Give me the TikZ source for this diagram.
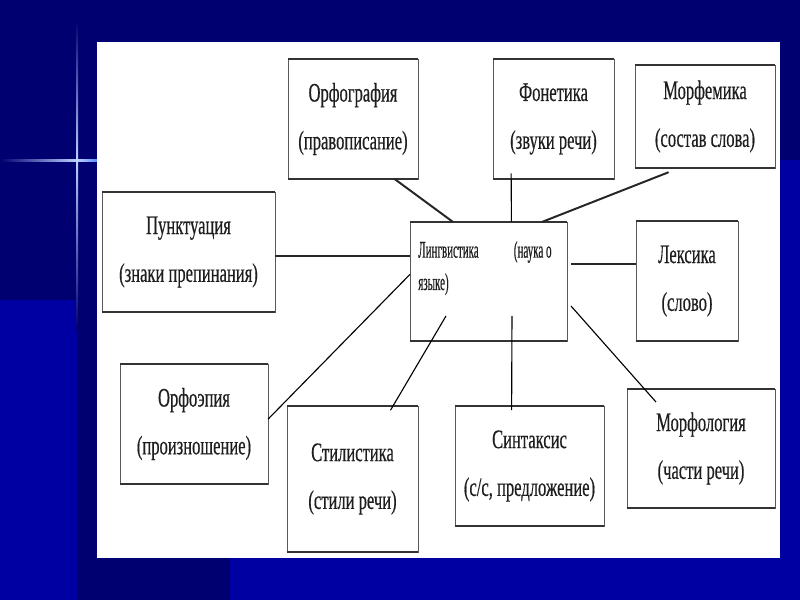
\documentclass[tikz,border=0pt]{standalone}
\usepackage{fontspec}
\setmainfont{Liberation Serif}[FakeStretch=0.62, FakeBold=0.4]
\newfontfamily\lingfont{Liberation Serif}[FakeStretch=0.46, FakeBold=0.4]
\usetikzlibrary{calc}
\definecolor{SlideNavy}{HTML}{000070}
\definecolor{SlideBlue}{HTML}{0000A2}
\definecolor{GlowBlue}{HTML}{5A8CFF}
\definecolor{InkGray}{HTML}{1E1E1E}

\begin{document}
\begin{tikzpicture}[
    x=0.025cm, y=-0.025cm,
    font=\fontsize{19pt}{34pt}\selectfont,
    box/.style={draw=black!65, line width=0.6pt, fill=white, align=center,
                inner sep=0pt, outer sep=0pt, text=InkGray},
    edge/.style={draw=black!80, line width=1.5pt},
    link/.style={draw=black, line width=0.8pt},
    boldlink/.style={draw=black!85, line width=1.4pt},
  ]
    % ---- фон слайда ----
    \useasboundingbox (0,0) rectangle (800,600);
    \fill[SlideNavy] (0,0) rectangle (800,600);
    \fill[SlideBlue] (0,300) rectangle (77,600);
    \fill[SlideBlue] (780,160) rectangle (800,600);
    \fill[SlideBlue] (230,558) rectangle (800,600);
    \shade[left color=SlideNavy, right color=GlowBlue!40!white] (0,159) rectangle (77,161);
    \shade[left color=GlowBlue!40!white, right color=GlowBlue] (77,159) rectangle (97,161);
    \shade[top color=SlideNavy, bottom color=GlowBlue!40!white] (76,20) rectangle (78,160);
    \shade[top color=GlowBlue!40!white, bottom color=SlideNavy] (76,160) rectangle (78,330);
    \fill[white] (97,42) rectangle (780,558);
    % ---- блоки ----
    \node[box, minimum width=3.25cm,  minimum height=3cm]     (orfo)   at (353,119)   {Орфография\\(правописание)};
    \node[box, minimum width=3.025cm, minimum height=3cm]     (fon)    at (553.5,119) {Фонетика\\(звуки речи)};
    \node[box, minimum width=3.5cm,   minimum height=2.575cm] (morfem) at (705,116.5) {Морфемика\\(состав слова)};
    \node[box, minimum width=4.325cm, minimum height=3cm]     (punkt)  at (188.5,252) {Пунктуация\\(знаки препинания)};
    \node[box, minimum width=3.925cm, minimum height=2.975cm] (ling)   at (488.5,281.5) {};
    \node[box, minimum width=2.55cm,  minimum height=3cm]     (leks)   at (687,281)   {Лексика\\(слово)};
    \node[box, minimum width=3.7cm,   minimum height=3cm]     (orfoep) at (194,424)   {Орфоэпия\\(произношение)};
    \node[box, minimum width=3.275cm, minimum height=3.65cm]  (stil)   at (352.5,479) {Стилистика\\(стили речи)};
    \node[box, minimum width=3.725cm, minimum height=3cm]     (sint)   at (529.5,466) {Синтаксис\\(с/с, предложение)};
    \node[box, minimum width=3.7cm,   minimum height=2.975cm] (morfol) at (701,448.5) {Морфология\\(части речи)};
    % ---- текст центрального блока ----
    \node[anchor=base west, align=left, inner sep=0pt, text=InkGray,
          font=\lingfont\fontsize{17pt}{23pt}\selectfont] (lingtext)
      at ($(ling.north west)+(8,68)$) {Лингвистика\hspace*{25pt}(наука о\\языке)};
    % ---- жирные верх и низ блоков ----
    \foreach \n in {orfo,fon,morfem,punkt,ling,leks,orfoep,stil,sint,morfol}
      \draw[edge] (\n.north west) -- (\n.north east) (\n.south west) -- (\n.south east);
    % ---- связи с центром ----
    \coordinate (leksjoin) at ($(leks.north west)!0.36!(leks.south west)$);
    \draw[boldlink] ($(orfo.south west)!0.82!(orfo.south east)$) -- ($(ling.north west)!0.274!(ling.north east)$);
    \draw[link] ([yshift=4pt]$(fon.south west)!0.15!(fon.south east)$) -- ($(ling.north west)!0.646!(ling.north east)$);
    \draw[boldlink] ([yshift=-3pt]$(morfem.south west)!0.24!(morfem.south east)$) -- ($(ling.north west)!0.84!(ling.north east)$);
    \draw[boldlink] ([yshift=-3pt]punkt.east) -- ([yshift=-3pt]punkt.east -| ling.west);
    \draw[boldlink] (leksjoin) -- ($(leksjoin -| ling.east)+(4,0)$);
    \draw[link] ($(orfoep.north east)!0.46!(orfoep.south east)$) -- ($(ling.north west)!0.44!(ling.south west)$);
    \draw[link] ([yshift=-3pt]$(stil.north west)!0.79!(stil.north east)$) -- ($(ling.south west)+(36,-25)$);
    \draw[link] ([yshift=-3pt]$(sint.north west)!0.38!(sint.north east)$) -- ($(ling.south west)+(102,-25)$);
    \draw[link] ($(ling.south east)+(4,-35)$) -- ($(morfol.north west)+(29,13)$);
  \end{tikzpicture}
\end{document}
